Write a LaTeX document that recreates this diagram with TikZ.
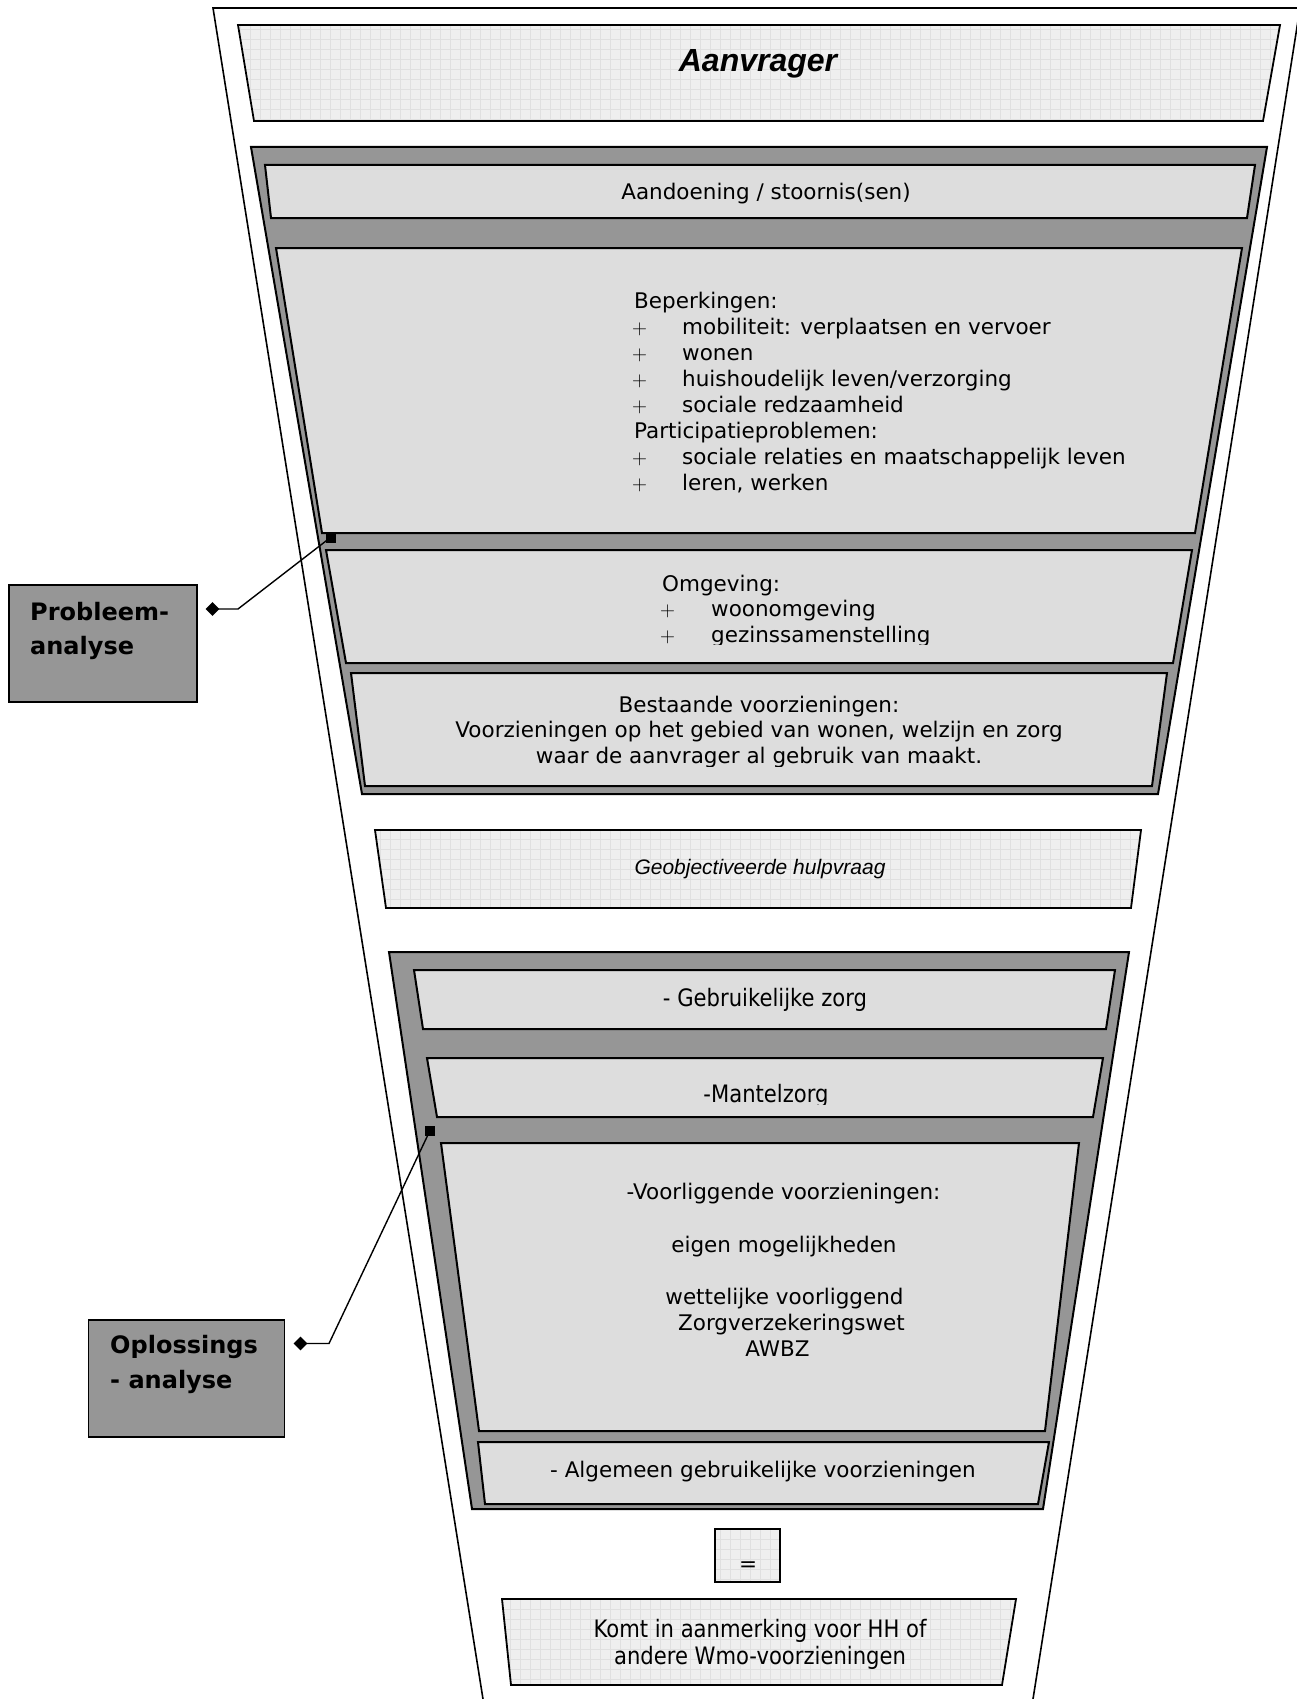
\documentclass[tikz,border=0pt]{standalone}
\usepackage{fontspec}
\setmainfont{DejaVu Sans}
\newfontfamily\arialfont{Liberation Sans}
\newfontfamily\tahomafont[FakeStretch=0.88]{DejaVu Sans}
\usetikzlibrary{shapes.geometric,patterns.meta}

\definecolor{framegray}{HTML}{969696}
\definecolor{boxgray}{HTML}{DDDDDD}
\definecolor{gridgray}{HTML}{EFEFEF}
\definecolor{gridline}{HTML}{E0E0E0}
\newcommand\bodyfont{\fontsize{21.5}{26}\selectfont}
\newcommand\narrowfont{\tahomafont\fontsize{24}{27}\selectfont}

\begin{document}
\begin{tikzpicture}[x=1pt,y=-1pt,
 every node/.style={inner sep=0pt,font=\bodyfont},
 darkframe/.style={draw,line width=2pt,fill=framegray},
 tray/.style={draw,line width=2pt,fill=boxgray},
 gridtray/.style={draw,line width=1.8pt,preaction={fill=gridgray},pattern={Hatch[angle=0,distance=10pt,line width=0.6pt]},pattern color=gridline},
 tagbox/.style={draw,line width=1.6pt,fill=framegray,minimum height=117pt},
 tagtext/.style={anchor=base west,font=\bfseries\fontsize{24}{34}\selectfont},
 dia/.style={diamond,fill,minimum width=14pt,minimum height=14pt},
 sq/.style={rectangle,fill,minimum size=10pt},
 leader/.style={line width=1.4pt}]
\useasboundingbox (0,0) rectangle (1296,1699);

% funnel
\draw[line width=1.6pt] (483,1699) -- (213,8) -- (1300,8) -- (1033,1699);

% aanvrager
\draw[gridtray] (238,25) -- (1280,25) -- (1263,121) -- (254,121) -- cycle;
\node[anchor=base,font=\arialfont\bfseries\itshape\fontsize{32}{38}\selectfont] (aanvrager) at (758,72) {Aanvrager};

% probleemanalyse
\draw[darkframe] (251,147) -- (1267,147) -- (1158,794) -- (362,794) -- cycle;
\draw[tray] (265,165) -- (1255,165) -- (1247,218) -- (271,218) -- cycle;
\draw[tray] (276,248) -- (1242,248) -- (1195,533) -- (322,533) -- cycle;
\draw[tray] (326,550) -- (1192,550) -- (1173,663) -- (346,663) -- cycle;
\draw[tray] (351,673) -- (1167,673) -- (1152,786) -- (365,786) -- cycle;

\node[anchor=base] (aandoening) at (766,200) {Aandoening / stoornis(sen)};

\node[anchor=base west] (beperk) at (634,308) {Beperkingen:};
\foreach \txt [count=\i] in {mobiliteit: verplaatsen en vervoer,wonen,huishoudelijk leven/verzorging,sociale redzaamheid}{
 \node[anchor=base west] at (632,308+26*\i) {$+$};
 \node[anchor=base west] at (682,308+26*\i) {\txt};
}
\node[anchor=base west] (particip) at (634,438) {Participatieproblemen:};
\foreach \txt [count=\i] in {sociale relaties en maatschappelijk leven,{leren, werken}}{
 \node[anchor=base west] at (632,438+26*\i) {$+$};
 \node[anchor=base west] at (682,438+26*\i) {\txt};
}

\begin{scope}
\clip (326,550) rectangle (1192,644);
\node[anchor=base west] (omgeving) at (662,591) {Omgeving:};
\foreach \txt [count=\i] in {woonomgeving,gezinssamenstelling}{
 \node[anchor=base west] at (660,591+25.5*\i) {$+$};
 \node[anchor=base west] at (711,591+25.5*\i) {\txt};
}
\end{scope}

\begin{scope}
\clip (351,673) rectangle (1167,766);
\foreach \ypos/\txt in {712/Bestaande voorzieningen:,737.5/{Voorzieningen op het gebied van wonen, welzijn en zorg},763/waar de aanvrager al gebruik van maakt.}
 \node[anchor=base] at (759,\ypos) {\txt};
\end{scope}

% hulpvraag
\draw[gridtray] (375,830) -- (1141,830) -- (1131,908) -- (386,908) -- cycle;
\node[anchor=base,font=\arialfont\itshape\fontsize{21}{25}\selectfont] (hulpvraag) at (760,874) {Geobjectiveerde hulpvraag};

% oplossingsanalyse
\draw[darkframe] (389,952) -- (1129,952) -- (1043,1509) -- (472,1509) -- cycle;
\draw[tray] (414,970) -- (1115,970) -- (1106,1029) -- (423,1029) -- cycle;
\draw[tray] (427,1058) -- (1103,1058) -- (1093,1117) -- (437,1117) -- cycle;
\draw[tray] (441,1143) -- (1079,1143) -- (1045,1431) -- (479,1431) -- cycle;
\draw[tray] (478,1442) -- (1049,1442) -- (1038,1504) -- (485,1504) -- cycle;

\node[anchor=base,font=\narrowfont] (gebruikelijk) at (765,1006) {- Gebruikelijke zorg};
\begin{scope}
\clip (427,1058) rectangle (1103,1104);
\node[anchor=base,font=\narrowfont] (mantelzorg) at (766,1102) {-Mantelzorg};
\end{scope}

\node[anchor=base] (voorliggend) at (783.5,1199.5) {-Voorliggende voorzieningen:};
\node[anchor=base] (eigen) at (784,1252) {eigen mogelijkheden};
\node[anchor=base] (wettelijk) at (784.5,1304) {wettelijke voorliggend};
\node[anchor=base] (zvw) at (791.5,1330) {Zorgverzekeringswet};
\node[anchor=base] (awbz) at (777.5,1356) {AWBZ};

\node[anchor=base] (algemeen) at (763,1477) {- Algemeen gebruikelijke voorzieningen};

% uitkomst
\draw[gridtray] (715,1529) rectangle (780,1582);
\node[anchor=base] (is) at (748,1571) {=};
\draw[gridtray] (502,1599) -- (1016,1599) -- (1002,1685) -- (511,1685) -- cycle;
\node[anchor=base,font=\narrowfont] (komt1) at (760,1637) {Komt in aanmerking voor HH of};
\node[anchor=base,font=\narrowfont] (komt2) at (760,1664) {andere Wmo-voorzieningen};

% labels
\node[tagbox,minimum width=188pt] (probleem) at (103,643.5) {};
\node[tagtext] at (30,620) {Probleem-};
\node[tagtext] at (30,654) {analyse};
\node[dia] (probdia) at (212.5,609) {};
\coordinate (probknee) at (238,609);
\node[sq] (probsq) at (330.5,537.5) {};
\draw[leader] (probdia.center) -- (probknee) -- (probsq.center);

\node[tagbox,minimum width=196pt] (oplossing) at (186.5,1378.5) {};
\node[tagtext] at (110,1353) {Oplossings};
\node[tagtext] at (110,1388) {- analyse};
\node[dia] (opldia) at (300.5,1343.5) {};
\coordinate (oplknee) at (329,1343.5);
\node[sq] (oplsq) at (430,1130.5) {};
\draw[leader] (opldia.center) -- (oplknee) -- (oplsq.center);
\end{tikzpicture}
\end{document}
